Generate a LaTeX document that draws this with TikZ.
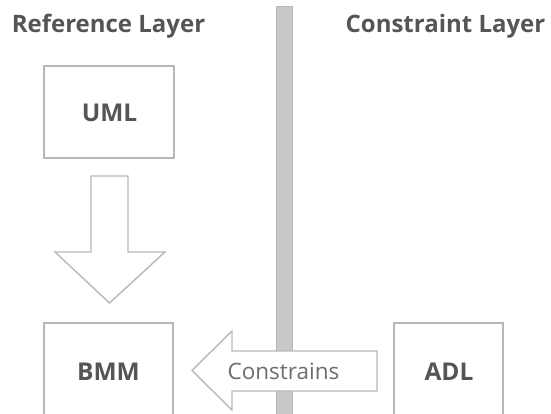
\documentclass[tikz,border=0pt]{standalone}
\usepackage{fontspec}
\setmainfont{Open Sans}
\definecolor{txtgray}{HTML}{555555}
\definecolor{lbgray}{HTML}{6E6E6E}
\definecolor{boxgray}{HTML}{B4B9BC}
\definecolor{arrgray}{HTML}{B8B8B8}
\definecolor{barfill}{HTML}{C9C9C9}
\begin{document}
\begin{tikzpicture}[x=1pt,y=-1pt,
  header/.style={text=txtgray,font=\fontsize{24}{28}\selectfont\bfseries,inner sep=0pt,anchor=base},
  boxnode/.style={draw=boxgray,line width=2pt,fill=white,inner sep=0pt},
  boxtext/.style={text=txtgray,font=\fontsize{24.5}{28}\selectfont\bfseries,inner sep=0pt,anchor=base},
  bigarrow/.style={draw=arrgray,line width=1.4pt,fill=white,line join=miter},
  lbl/.style={text=lbgray,font=\fontsize{22.5}{26}\selectfont,inner sep=0pt,anchor=base}]
\useasboundingbox (0,0) rectangle (551,413);
\clip (0,0) rectangle (551,413);
% divider bar
\draw[fill=barfill,draw=boxgray,line width=1pt] (276,6) rectangle (292,420);
% headers
\node[header] (reflayer) at (108.5,32) {Reference Layer};
\node[header] (conlayer) at (445.5,32) {Constraint Layer};
% boxes
\node[boxnode,minimum width=130pt,minimum height=92pt] (uml) at (109,112) {};
\node[boxtext] (umlt) at (109.5,121) {UML};
\node[boxnode,minimum width=129pt,minimum height=100pt] (bmm) at (108.5,373) {};
\node[boxtext] (bmmt) at (108.5,380) {BMM};
\node[boxnode,minimum width=109pt,minimum height=100pt] (adl) at (448.5,373) {};
\node[boxtext] (adlt) at (449,380) {ADL};
% down arrow
\draw[bigarrow] (91,176) -- (128,176) -- (128,252) -- (165,252) -- (109.5,303)
  -- (55,252) -- (91,252) -- cycle;
% left arrow
\draw[bigarrow] (192,370.5) -- (232,331) -- (232,351) -- (377,351) -- (377,391)
  -- (232,391) -- (232,410) -- cycle;
\node[lbl] (constrains) at (283.5,379) {Constrains};
\end{tikzpicture}
\end{document}
